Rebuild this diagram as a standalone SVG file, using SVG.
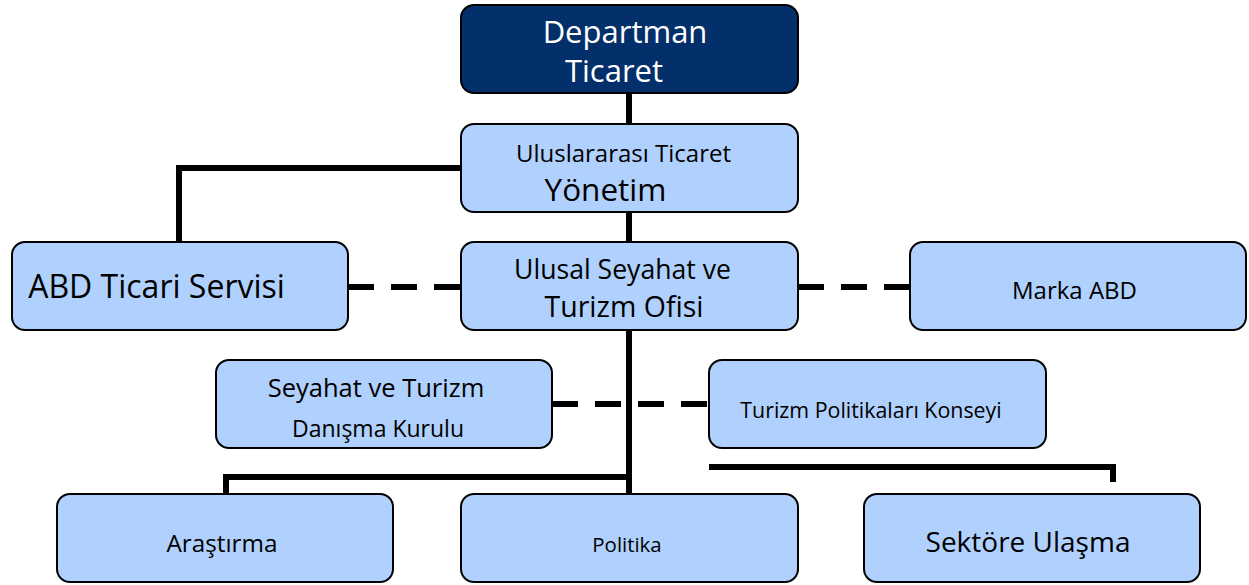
<svg xmlns="http://www.w3.org/2000/svg" width="1249" height="585" viewBox="0 0 1249 585">
<style>
.n{fill:#b0d1fd;stroke:#000;stroke-width:2}
.top{fill:#03306a;stroke:#000;stroke-width:2}
text{font-family:"Open Sans","Noto Sans",sans-serif;fill:#000;text-anchor:middle}
.w{fill:#fff}
.c{fill:none;stroke:#000;stroke-width:6}
.d{fill:none;stroke:#000;stroke-width:6;stroke-dasharray:26 17}
</style>
<rect width="1249" height="585" fill="#fff"/>
<g id="connectors">
<path class="c" d="M629 93V124M629 212V242M629 330V494"/>
<path class="c" d="M461 168H179V242"/>
<path class="c" d="M629 477H226V494"/>
<path class="c" d="M709 467H1113V482"/>
<path class="d" d="M348 287H461"/>
<path class="d" d="M798 287H910"/>
<path class="d" d="M552 404H709"/>
</g>
<g id="dept"><rect class="top" x="461" y="5" width="337" height="88" rx="13"/>
<text class="w" x="625" y="43" font-size="31">Departman</text>
<text class="w" x="614" y="82" font-size="31">Ticaret</text></g>
<g id="yonetim"><rect class="n" x="461" y="124" width="337" height="88" rx="13"/>
<text x="623.5" y="162" font-size="24">Uluslararası Ticaret</text>
<text x="605.5" y="201" font-size="31.5">Yönetim</text></g>
<g id="abd"><rect class="n" x="12" y="242" width="336" height="88" rx="13"/>
<text x="156.5" y="298" font-size="32">ABD Ticari Servisi</text></g>
<g id="ulusal"><rect class="n" x="461" y="242" width="337" height="88" rx="13"/>
<text x="622.5" y="279" font-size="26.6">Ulusal Seyahat ve</text>
<text x="624" y="317" font-size="28.5">Turizm Ofisi</text></g>
<g id="marka"><rect class="n" x="910" y="242" width="336" height="88" rx="13"/>
<text x="1074.5" y="299" font-size="24">Marka ABD</text></g>
<g id="danisma"><rect class="n" x="216" y="360" width="336" height="88" rx="13"/>
<text x="376" y="397" font-size="25.5">Seyahat ve Turizm</text>
<text x="378" y="437" font-size="23">Danışma Kurulu</text></g>
<g id="konsey"><rect class="n" x="709" y="360" width="337" height="88" rx="13"/>
<text x="871" y="418" font-size="21.4">Turizm Politikaları Konseyi</text></g>
<g id="arastirma"><rect class="n" x="57" y="494" width="336" height="88" rx="13"/>
<text x="222" y="552" font-size="24.3">Araştırma</text></g>
<g id="politika"><rect class="n" x="461" y="494" width="337" height="88" rx="13"/>
<text x="627" y="552" font-size="20.4">Politika</text></g>
<g id="sektore"><rect class="n" x="864" y="494" width="336" height="88" rx="13"/>
<text x="1028" y="552" font-size="28">Sektöre Ulaşma</text></g>
</svg>
